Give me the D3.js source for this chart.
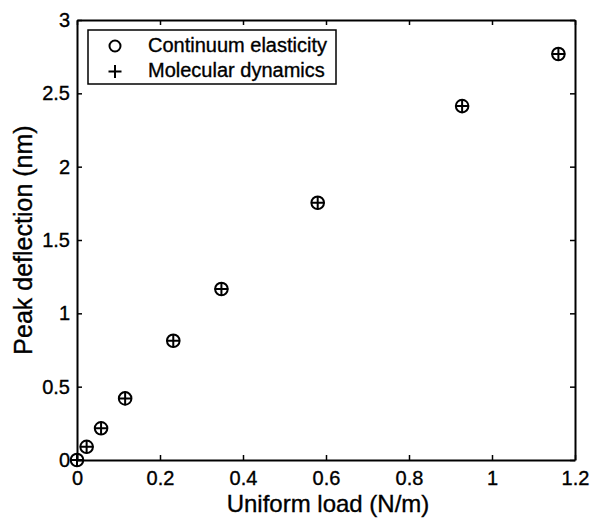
<!DOCTYPE html>
<html>
<head>
<meta charset="utf-8">
<script src="https://cdn.jsdelivr.net/npm/d3@7"></script>
<style>
  html, body { margin: 0; padding: 0; background: #fff; }
  svg { display: block; }
  text { font-family: "Liberation Sans", Arial, Helvetica, sans-serif; fill: #000; stroke: #000; stroke-width: 0.35px; }
</style>
</head>
<body>
<svg id="chart" width="591" height="518"></svg>
<script>
// Uniform load (N/m) and peak deflection (nm)
const load = [0, 0.0232, 0.058, 0.116, 0.232, 0.348, 0.58, 0.928, 1.16];
const continuumDeflection = [0, 0.09, 0.216, 0.42, 0.813, 1.166, 1.754, 2.413, 2.768];
const mdDeflection = [0, 0.09, 0.216, 0.42, 0.813, 1.166, 1.754, 2.413, 2.768];
const xTicks = [0, 0.2, 0.4, 0.6, 0.8, 1, 1.2];
const yTicks = [0, 0.5, 1, 1.5, 2, 2.5, 3];
const legendLabels = ["Continuum elasticity", "Molecular dynamics"];

const svg = d3.select("#chart");
const m = { left: 77, right: 16, top: 20, bottom: 58 };
const W = 591, H = 518;
const x = d3.scaleLinear().domain([0, 1.2]).range([m.left, W - m.right]);
const y = d3.scaleLinear().domain([0, 3]).range([H - m.bottom, m.top]);

const fmt = d => String(d);

// bottom axis with labels, ticks pointing inward
const gx = svg.append("g").attr("transform", `translate(0,${y(0)})`)
  .call(d3.axisBottom(x).tickValues(xTicks).tickFormat(fmt).tickSizeInner(-5).tickSizeOuter(0).tickPadding(11));
// left axis
const gy = svg.append("g").attr("transform", `translate(${x(0)},0)`)
  .call(d3.axisLeft(y).tickValues(yTicks).tickFormat(fmt).tickSizeInner(-5).tickSizeOuter(0).tickPadding(7));
// top and right axes (ticks only)
const gt = svg.append("g").attr("transform", `translate(0,${y(3)})`)
  .call(d3.axisTop(x).tickValues(xTicks).tickFormat("").tickSizeInner(-5).tickSizeOuter(0));
const gr = svg.append("g").attr("transform", `translate(${x(1.2)},0)`)
  .call(d3.axisRight(y).tickValues(yTicks).tickFormat("").tickSizeInner(-5).tickSizeOuter(0));

[gx, gy, gt, gr].forEach(g => {
  g.select(".domain").attr("stroke", "#000").attr("stroke-width", 2);
  g.selectAll(".tick line").attr("stroke", "#000").attr("stroke-width", 1.5);
  g.selectAll("text").style("font-size", "20px").attr("fill", "#000")
    .style("font-family", '"Liberation Sans", Arial, sans-serif');
});

// axis titles
svg.append("text")
  .attr("x", (x(0) + x(1.2)) / 2 + 2).attr("y", 512)
  .attr("text-anchor", "middle").style("font-size", "24px")
  .text("Uniform load (N/m)");
svg.append("text")
  .attr("transform", `translate(32,${(y(0) + y(3)) / 2}) rotate(-90)`)
  .attr("text-anchor", "middle").style("font-size", "25px")
  .text("Peak deflection (nm)");

const R = 6.3;
function plus(sel, cx, cy, r) {
  sel.append("path")
    .attr("d", `M${cx - r},${cy}H${cx + r}M${cx},${cy - r}V${cy + r}`)
    .attr("stroke", "#000").attr("stroke-width", 2).attr("fill", "none");
}

// continuum elasticity (circles)
svg.append("g").selectAll("circle").data(load.map((v, i) => [v, continuumDeflection[i]]))
  .join("circle")
  .attr("cx", d => x(d[0])).attr("cy", d => y(d[1])).attr("r", R)
  .attr("fill", "none").attr("stroke", "#000").attr("stroke-width", 2);

// molecular dynamics (plus signs)
const gp = svg.append("g");
load.forEach((v, i) => plus(gp, x(v), y(mdDeflection[i]), R + 0.5));

// legend
const lg = svg.append("g");
lg.append("rect").attr("x", 88).attr("y", 30).attr("width", 248).attr("height", 54)
  .attr("fill", "#fff").attr("stroke", "#000").attr("stroke-width", 1.5);
lg.append("circle").attr("cx", 115).attr("cy", 46).attr("r", 5.5)
  .attr("fill", "none").attr("stroke", "#000").attr("stroke-width", 2);
plus(lg, 115, 71.5, 6.5);
legendLabels.forEach((t, i) => {
  lg.append("text").attr("x", 148).attr("y", 52 + i * 25).style("font-size", "20px").text(t);
});
</script>
</body>
</html>
